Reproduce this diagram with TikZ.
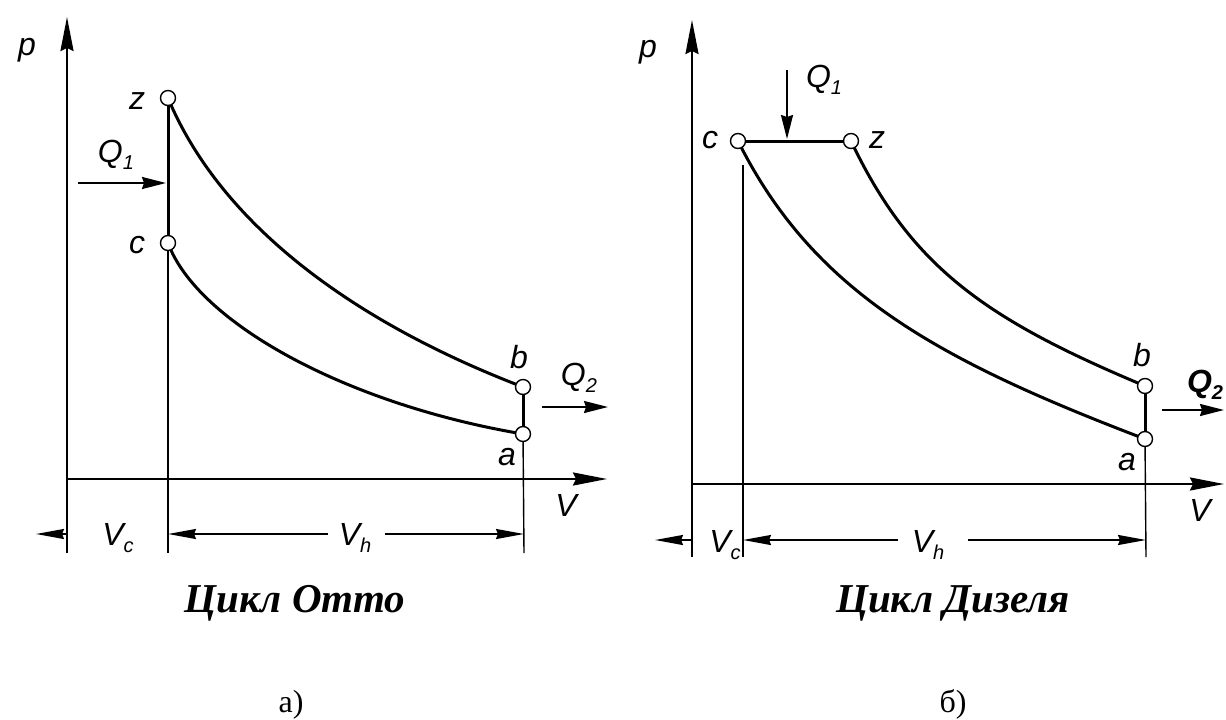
\documentclass[tikz,border=0pt]{standalone}
\usepackage{fontspec}
\setmainfont{Liberation Serif}
\newfontfamily\lblfont{Liberation Sans}
\usetikzlibrary{arrows.meta}
\pgfdeclarelayer{bg}
\pgfsetlayers{bg,main}
\newcommand\lsub[1]{\raisebox{-7pt}{\fontsize{20}{20}\selectfont #1}}
\begin{document}
\begin{tikzpicture}[x=1pt,y=-1pt,
  pt/.style={circle, draw, fill=white, line width=1.4pt, minimum size=15pt, inner sep=0pt},
  cyc/.style={line width=3pt, line cap=round, line join=round},
  axis/.style={line width=2.2pt, -{Stealth[length=34pt,width=13pt,inset=3pt]}},
  ext/.style={line width=1.4pt},
  dimarr/.style={line width=1.8pt, -{Stealth[length=28pt,width=10pt,inset=2pt]}},
  heat/.style={line width=2pt, -{Stealth[length=24pt,width=12pt,inset=2pt]}},
  lbl/.style={font=\lblfont\itshape\fontsize{32}{32}\selectfont, inner sep=0pt},
  ttl/.style={font=\bfseries\itshape\fontsize{41}{41}\selectfont, inner sep=0pt, anchor=base},
  capt/.style={font=\fontsize{32}{32}\selectfont, inner sep=0pt, anchor=base}]
\useasboundingbox (0,0) rectangle (1226,720);

% ================= LEFT: Otto =================
\coordinate (LpB) at (67,553);
\coordinate (LpT) at (67,17);
\coordinate (LvL) at (67,479);
\coordinate (LvR) at (607,479);
\node[pt] (Lz) at (168,98) {};
\node[pt] (Lc) at (168,243) {};
\node[pt] (Lb) at (523,387) {};
\node[pt] (La) at (523,434) {};
\coordinate (LcB) at (168,553);
\coordinate (LaB) at (524,553);
\coordinate (LdVc) at (36,534);
\coordinate (LdL) at (67,534);
\coordinate (LdC) at (168,534);
\coordinate (LdA) at (524,534);
\coordinate (LdH1) at (328,534);
\coordinate (LdH2) at (385,534);
\coordinate (LQ1s) at (78,183);
\coordinate (LQ1e) at (166,183);
\coordinate (LQ2s) at (542,407);
\coordinate (LQ2e) at (608,407);

\begin{pgfonlayer}{bg}
\draw[axis] (LpB) -- (LpT);
\draw[axis] (LvL) -- (LvR);
\draw[ext] (Lc.center) -- (LcB);
\draw[ext] (La.center) -- (LaB);
\draw[cyc] (Lz.center) -- (Lc.center);
\draw[cyc] (Lb.center) -- (La.center);
\draw[cyc] (Lz.center) .. controls (218,218) and (343,318) .. (Lb.center);
\draw[cyc] (Lc.center) .. controls (197,322) and (345,404) .. (La.center);
\end{pgfonlayer}

\draw[dimarr] (LdL) -- (LdVc);
\draw[dimarr] (LdH1) -- (LdC);
\draw[dimarr] (LdH2) -- (LdA);
\draw[heat] (LQ1s) -- (LQ1e);
\draw[heat] (LQ2s) -- (LQ2e);

\node[lbl] (Lp) at (27,50) {p};
\node[lbl] (LzL) at (137,101) {z};
\node[lbl] (LcL) at (137,245) {c};
\node[lbl] (LQ1) at (116,155) {Q\lsub{1}};
\node[lbl] (LbL) at (519,357) {b};
\node[lbl] (LaL) at (507,457) {a};
\node[lbl] (LQ2) at (579,378) {Q\lsub{2}};
\node[lbl] (LV) at (566,505) {V};
\node[lbl] (LVc) at (118,538) {V\lsub{c}};
\node[lbl] (LVh) at (355,538) {V\lsub{h}};
\node[ttl] (Lt) at (295,612) {Цикл Отто};
\node[capt] (La2) at (291,712) {а)};

% ================= RIGHT: Diesel =================
\coordinate (RpB) at (692,557);
\coordinate (RpT) at (692,20);
\coordinate (RvL) at (692,484);
\coordinate (RvR) at (1224,484);
\node[pt] (Rc) at (738,141) {};
\node[pt] (Rz) at (851,141) {};
\node[pt] (Rb) at (1145,386) {};
\node[pt] (Ra) at (1145,439) {};
\coordinate (RcT) at (743,165);
\coordinate (RcB) at (743,557);
\coordinate (RaB) at (1146,557);
\coordinate (RdVc) at (655,540);
\coordinate (RdL) at (692,540);
\coordinate (RdC) at (743,540);
\coordinate (RdA) at (1146,540);
\coordinate (RdH1) at (898,540);
\coordinate (RdH2) at (968,540);
\coordinate (RQ1s) at (787,70);
\coordinate (RQ1e) at (787,139);
\coordinate (RQ2s) at (1162,410);
\coordinate (RQ2e) at (1224,410);

\begin{pgfonlayer}{bg}
\draw[axis] (RpB) -- (RpT);
\draw[axis] (RvL) -- (RvR);
\draw[ext] (RcT) -- (RcB);
\draw[ext] (Ra.center) -- (RaB);
\draw[cyc] (Rc.center) -- (Rz.center);
\draw[cyc] (Rb.center) -- (Ra.center);
\draw[cyc] (Rz.center) .. controls (911,267) and (985,319) .. (Rb.center);
\draw[cyc] (Rc.center) .. controls (813,291) and (935,359) .. (Ra.center);
\end{pgfonlayer}

\draw[dimarr] (RdL) -- (RdVc);
\draw[dimarr] (RdH1) -- (RdC);
\draw[dimarr] (RdH2) -- (RdA);
\draw[heat] (RQ1s) -- (RQ1e);
\draw[heat] (RQ2s) -- (RQ2e);

\node[lbl] (Rp) at (648,52) {p};
\node[lbl] (RcL) at (710,140) {c};
\node[lbl] (RzL) at (877,140) {z};
\node[lbl] (RQ1) at (824,80) {Q\lsub{1}};
\node[lbl] (RbL) at (1142,355) {b};
\node[lbl] (RaL) at (1127,462) {a};
\node[lbl] (RQ2) at (1205,385) {\bfseries Q\lsub{2}};
\node[lbl] (RV) at (1200,510) {V};
\node[lbl] (RVc) at (725,545) {V\lsub{c}};
\node[lbl] (RVh) at (928,545) {V\lsub{h}};
\node[ttl] (Rt) at (953,612) {Цикл Дизеля};
\node[capt] (Rb2) at (953,712) {б)};
\end{tikzpicture}
\end{document}
